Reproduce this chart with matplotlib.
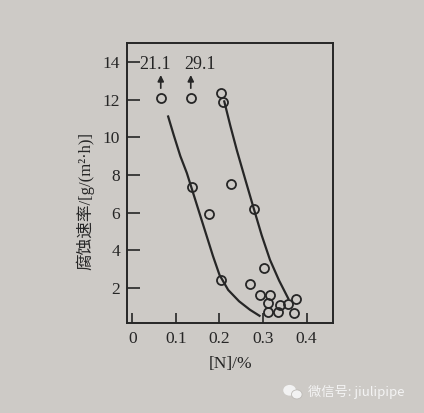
import matplotlib
matplotlib.use("Agg")
import matplotlib.pyplot as plt
from matplotlib.patches import Ellipse

# data points (N %, corrosion rate)
pts_x = [0.065, 0.134, 0.203, 0.209, 0.1375, 0.226, 0.175, 0.279, 0.203, 0.302,
         0.269, 0.293, 0.316, 0.311, 0.311, 0.334, 0.339, 0.358, 0.376, 0.372]
pts_y = [12.1, 12.1, 12.35, 11.85, 7.37, 7.5, 5.94, 6.21, 2.43, 3.09,
         2.22, 1.62, 1.62, 1.2, 0.72, 0.72, 1.09, 1.15, 1.41, 0.67]

# curves
left_x = [0.082, 0.095, 0.11, 0.125, 0.14, 0.155, 0.17, 0.185, 0.20, 0.22, 0.245, 0.27, 0.292]
left_y = [11.1, 10.1, 9.0, 8.1, 7.0, 5.9, 4.8, 3.7, 2.7, 1.9, 1.3, 0.85, 0.53]
right_x = [0.211, 0.225, 0.24, 0.26, 0.279, 0.297, 0.316, 0.337, 0.358]
right_y = [11.9, 10.6, 9.3, 7.7, 6.2, 4.8, 3.5, 2.4, 1.45]

# off-scale values
off_x = [0.065, 0.134]
off_labels = ["21.1", "29.1"]
off_label_x = [0.052, 0.155]

xticks = [0, 0.1, 0.2, 0.3, 0.4]
xticklabels = ["0", "0.1", "0.2", "0.3", "0.4"]
yticks = [2, 4, 6, 8, 10, 12, 14]

bg = "#cdcac6"
ink = "#262626"
serif = ["Liberation Serif", "DejaVu Serif"]

fig = plt.figure(figsize=(4.24, 4.13), dpi=100, facecolor=bg)
ax = fig.add_axes([0.2995, 0.218, 0.486, 0.678], facecolor=bg)

ax.plot(left_x, left_y, color=ink, lw=1.6)
ax.plot(right_x, right_y, color=ink, lw=1.6)
ax.plot(pts_x, pts_y, 'o', ms=6.5, mfc='none', mec=ink, mew=1.3)

for x, lab, lx in zip(off_x, off_labels, off_label_x):
    ax.annotate("", xy=(x, 13.3), xytext=(x, 12.6),
                arrowprops=dict(arrowstyle="-|>", color=ink, lw=1.2,
                                mutation_scale=9, shrinkA=0, shrinkB=0))
    ax.text(lx, 13.85, lab, ha='center', va='center', fontsize=13,
            family=serif, color=ink)

ax.set_xlim(-0.0126, 0.461)
ax.set_ylim(0.15, 15.0)
ax.set_xticks(xticks)
ax.set_xticklabels(xticklabels)
ax.set_yticks(yticks)
ax.tick_params(direction='in', length=7, width=1.2, colors=ink, labelsize=12.5,
               pad=6)
ax.tick_params(axis='y', direction='in', length=9, pad=5)
for lab in ax.get_xticklabels() + ax.get_yticklabels():
    lab.set_family(serif)
for s in ax.spines.values():
    s.set_color(ink)
    s.set_linewidth(1.4)

fig.text(0.2, 0.513, "腐蚀速率/[g/(m²·h)]", rotation=90, ha='center', va='center',
         fontsize=12, color=ink,
         family=["Liberation Serif", "Noto Sans CJK SC", "DejaVu Sans"])
fig.text(0.543, 0.118, "[N]/%", ha='center', va='center', fontsize=12.5,
         color=ink, family=serif)

# watermark
fig.patches.append(Ellipse((0.683, 0.055), 0.030, 0.026, transform=fig.transFigure,
                           facecolor="#f2f2f2", edgecolor="none"))
fig.patches.append(Ellipse((0.700, 0.045), 0.025, 0.022, transform=fig.transFigure,
                           facecolor="#f2f2f2", edgecolor="#bdbab6", lw=0.6))
fig.text(0.726, 0.051, "微信号: jiulipipe", ha='left', va='center', fontsize=9.5,
         color="#f4f4f4", family=["Noto Sans CJK SC", "DejaVu Sans"])

fig.savefig("out.png", dpi=100, facecolor=bg)
